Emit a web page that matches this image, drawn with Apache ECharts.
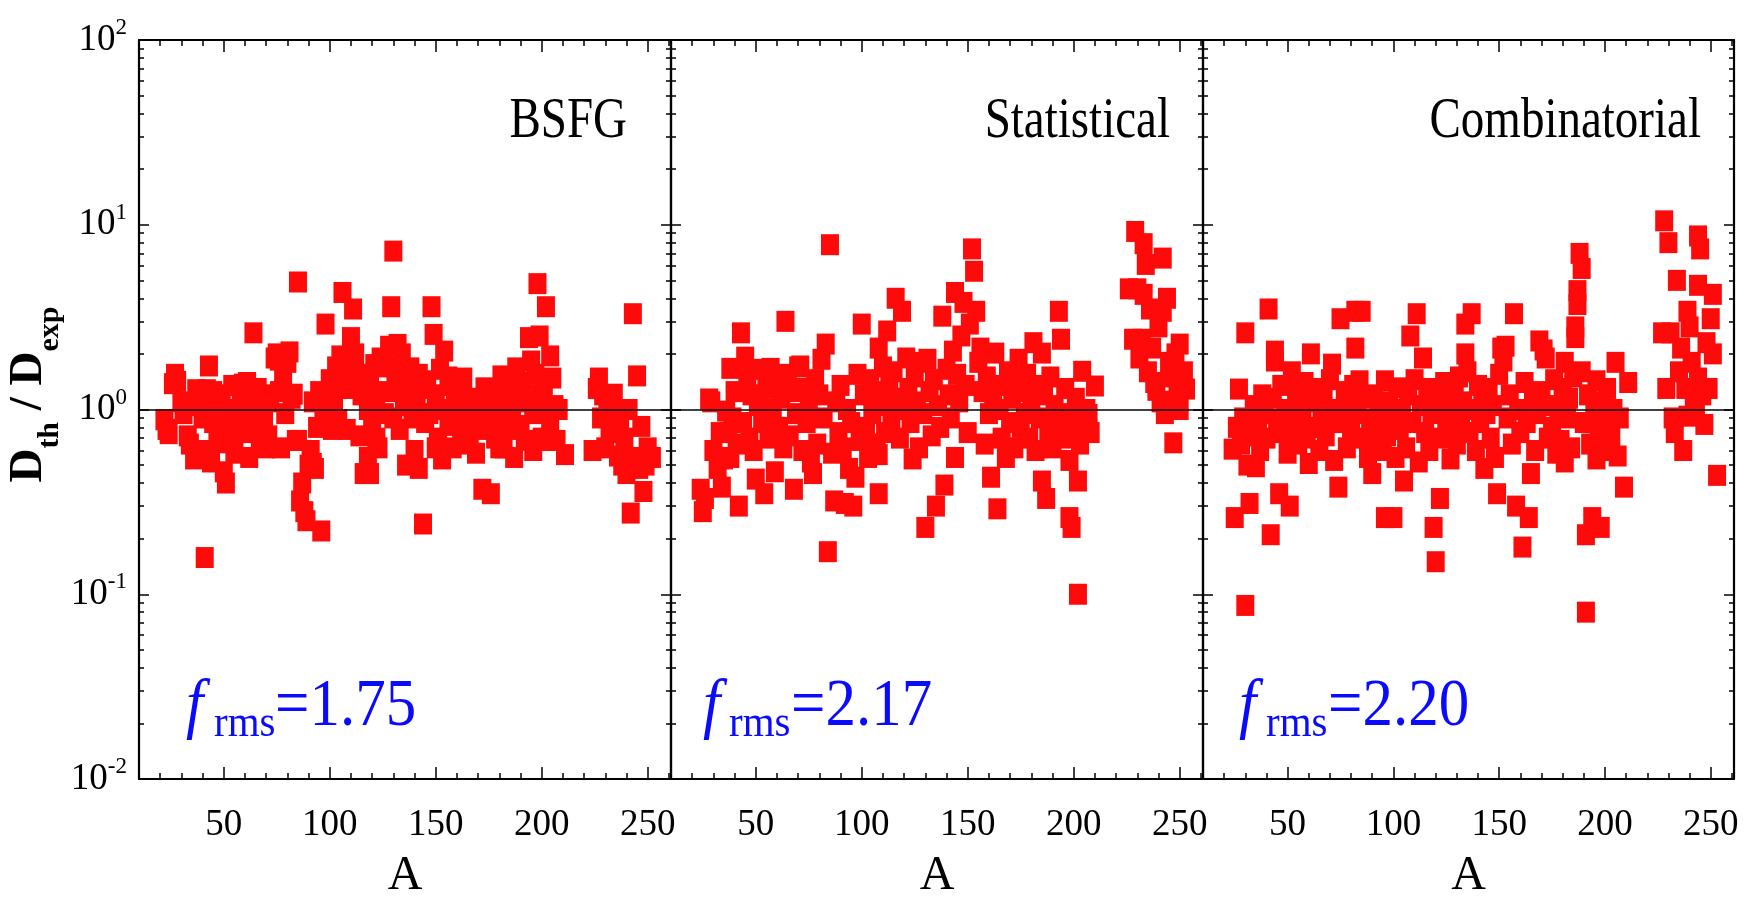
<!DOCTYPE html>
<html>
<head>
<meta charset="utf-8">
<script src="https://cdn.jsdelivr.net/npm/echarts@6/dist/echarts.min.js"></script>
<style>
html,body{margin:0;padding:0;background:#fff;}
#chart{width:1745px;height:898px;}
</style>
</head>
<body>
<div id="chart"></div>
<script>
// ---------------- DATA ----------------
const panelNames = ['BSFG', 'Statistical', 'Combinatorial'];
const frmsValues = ['1.75', '2.17', '2.20'];
const xMajorTicks = [50, 100, 150, 200, 250];
const xMinorTicks = [10, 20, 30, 40, 50, 60, 70, 80, 90, 100, 110, 120, 130, 140, 150, 160, 170, 180, 190, 200, 210, 220, 230, 240, 250, 260];
const yMinorTicks = [0.02, 0.03, 0.04, 0.05, 0.06, 0.07, 0.08, 0.09, 0.2, 0.3, 0.4, 0.5, 0.6, 0.7, 0.8, 0.9, 2, 3, 4, 5, 6, 7, 8, 9, 20, 30, 40, 50, 60, 70, 80, 90];
const refLineValue = 1;

// [A, D_th/D_exp]
const bsfgPoints = [
[22,0.88],[23,0.78],[24,0.74],[26,1.38],[27,1.55],[28,1.42],[30,1.10],[31,0.95],[33,0.72],[34,0.65],[35,1.05],[36,0.54],[37,1.28],[38,1.12],[39,0.60],[40,0.90],[41,0.158],[42,1.28],[43,1.72],[44,0.52],[45,0.85],[45,1.25],[46,1.10],[47,0.66],[48,0.78],[49,1.20],[50,0.46],[51,0.40],[52,0.95],[53,0.70],[54,1.35],[55,0.58],[56,1.00],[56,0.75],[57,0.88],[58,1.25],[59,1.37],[60,0.95],[61,1.40],[61,0.75],[62,0.55],[63,1.15],[64,2.60],[65,0.95],[66,1.30],[66,0.85],[67,0.68],[68,1.05],[69,0.85],[70,1.20],[70,0.62],[71,0.72],[72,1.10],[74,1.90],[75,2.00],[76,1.85],[76,1.25],[77,0.62],[78,1.50],[79,0.95],[80,1.80],[81,2.05],[82,1.15],[83,1.21],[84,0.68],[85,4.9],[85,0.68],[86,0.32],[87,0.40],[88,0.28],[89,0.25],[90,0.50],[91,0.60],[92,1.10],[92,0.51],[93,0.48],[94,0.80],[95,1.25],[96,0.22],[97,0.95],[98,2.9],[99,1.20],[100,1.45],[100,1.15],[101,0.78],[102,1.10],[103,1.70],[104,0.88],[104,1.30],[105,1.95],[106,4.3],[107,1.30],[107,1.83],[108,1.60],[108,0.78],[110,2.45],[111,3.5],[112,2.00],[112,1.55],[113,1.40],[114,0.72],[115,1.20],[116,0.45],[117,1.55],[118,0.55],[118,1.00],[119,1.35],[119,0.45],[120,0.82],[121,1.75],[122,1.15],[122,0.70],[123,0.62],[124,1.90],[125,1.83],[126,0.95],[126,1.70],[127,1.25],[128,2.2],[129,3.6],[130,7.2],[130,0.90],[131,1.60],[132,2.25],[133,0.78],[134,2.00],[134,1.25],[135,1.05],[136,0.50],[137,1.40],[138,1.68],[138,1.15],[139,0.90],[140,0.60],[141,1.15],[142,0.48],[142,1.55],[143,1.30],[144,0.24],[145,0.85],[146,1.43],[147,0.95],[148,3.6],[149,2.55],[150,1.20],[150,0.62],[151,0.70],[152,1.65],[153,0.54],[154,2.07],[155,1.00],[156,0.82],[156,1.50],[157,1.35],[158,0.62],[159,1.10],[160,0.90],[160,1.30],[161,1.25],[162,0.75],[163,1.48],[164,0.88],[164,0.65],[165,1.05],[166,0.68],[167,0.95],[168,1.15],[169,0.58],[170,0.85],[171,1.00],[172,0.37],[172,1.10],[173,1.31],[174,0.78],[175,0.92],[176,0.35],[176,0.82],[177,1.08],[178,0.70],[179,1.20],[180,0.88],[180,0.62],[181,1.52],[182,0.62],[183,1.00],[184,0.78],[184,1.15],[185,1.30],[186,0.95],[187,0.55],[188,1.68],[189,1.10],[190,0.82],[190,1.30],[191,1.40],[192,0.68],[193,1.20],[194,2.45],[195,1.83],[196,0.95],[196,0.60],[197,1.55],[198,4.8],[199,2.5],[200,0.70],[200,1.10],[201,1.30],[202,3.6],[203,0.68],[204,1.95],[204,0.88],[205,1.48],[206,1.05],[207,0.68],[208,1.00],[211,0.57],[224,0.60],[226,1.30],[227,1.48],[228,0.90],[229,1.20],[230,0.62],[231,1.05],[232,0.75],[233,0.95],[234,1.21],[235,0.80],[236,0.56],[237,0.85],[238,0.50],[239,0.70],[240,0.45],[241,1.00],[242,0.275],[243,3.3],[244,0.55],[245,1.52],[246,0.48],[247,0.81],[248,0.36],[249,0.50],[250,0.62],[252,0.55]
];

const statisticalPoints = [
[24,0.37],[25,0.28],[26,0.33],[28,1.14],[29,1.10],[30,0.60],[32,0.48],[33,0.75],[34,0.38],[35,0.54],[36,0.98],[37,0.75],[38,0.55],[38,1.67],[39,0.90],[40,1.25],[41,0.65],[42,0.30],[43,2.6],[44,0.85],[45,1.92],[46,1.50],[47,0.70],[48,1.20],[49,0.60],[50,0.42],[51,1.05],[52,1.65],[53,0.85],[54,0.35],[55,1.30],[56,0.70],[57,1.67],[58,1.00],[59,0.46],[60,1.40],[61,0.80],[62,1.15],[63,0.62],[64,3.0],[65,1.55],[66,0.72],[67,1.25],[68,0.37],[69,0.95],[70,1.70],[71,1.72],[72,0.60],[73,1.30],[74,0.85],[75,1.05],[76,0.52],[77,0.45],[78,1.45],[79,0.65],[80,1.20],[81,1.87],[82,0.90],[83,2.26],[84,0.17],[85,7.8],[86,0.58],[87,0.32],[88,1.10],[89,0.75],[90,1.35],[91,0.62],[92,0.31],[93,1.00],[94,0.48],[95,0.85],[96,0.30],[97,0.43],[98,1.55],[99,0.68],[100,2.9],[101,1.20],[102,0.80],[103,0.55],[104,1.45],[105,0.95],[106,1.25],[107,0.65],[108,2.15],[108,0.35],[108,0.57],[109,1.05],[110,1.70],[111,0.75],[112,2.66],[113,1.35],[114,0.90],[115,1.60],[116,4.0],[117,1.15],[118,0.70],[119,3.4],[120,1.00],[121,1.90],[122,1.30],[123,0.85],[124,0.54],[125,1.50],[126,1.10],[127,0.62],[128,1.80],[129,0.95],[130,0.23],[131,1.87],[132,1.25],[133,0.72],[134,1.45],[135,0.30],[136,1.05],[137,0.80],[138,3.2],[139,0.39],[140,1.65],[141,1.20],[142,0.90],[143,2.07],[144,4.3],[144,0.55],[145,1.55],[146,1.10],[147,2.5],[148,3.8],[149,1.35],[150,0.75],[151,2.9],[152,7.4],[153,5.6],[154,3.4],[155,1.80],[156,2.15],[157,1.25],[158,0.65],[159,1.50],[160,0.95],[161,0.43],[162,1.20],[163,2.02],[164,0.29],[165,1.00],[166,0.70],[167,1.35],[168,0.55],[169,1.60],[170,0.85],[171,1.15],[172,0.62],[173,1.45],[174,1.87],[175,0.80],[176,1.25],[177,0.95],[178,1.55],[179,0.70],[180,1.10],[181,2.3],[182,0.60],[183,1.35],[184,0.90],[185,2.02],[185,0.41],[186,1.20],[187,0.33],[188,0.75],[189,1.50],[190,0.62],[191,1.05],[192,0.85],[193,3.4],[194,2.4],[195,0.70],[196,1.30],[197,0.95],[198,0.26],[198,0.53],[199,0.23],[200,0.80],[201,1.15],[202,0.10],[202,0.41],[203,0.65],[204,1.61],[205,0.90],[206,1.00],[207,0.94],[208,0.75],[210,1.34],[226,4.5],[228,2.4],[229,9.2],[230,4.5],[231,1.90],[232,2.4],[233,7.9],[233,4.2],[234,6.1],[235,1.60],[236,3.5],[237,2.15],[238,1.40],[239,1.27],[240,2.8],[241,1.10],[242,6.6],[242,3.4],[243,0.95],[244,4.0],[244,1.11],[245,1.80],[246,1.50],[247,0.66],[248,2.0],[249,1.25],[250,2.26],[250,1.00],[252,1.60],[253,1.29]
];

const combinatorialPoints = [
[24,0.61],[25,0.26],[26,0.80],[27,1.29],[28,0.65],[29,0.90],[30,2.6],[30,0.087],[31,0.50],[32,0.31],[33,0.72],[34,1.05],[35,0.49],[36,0.85],[37,0.60],[38,1.20],[39,0.95],[40,0.70],[41,3.5],[42,0.21],[43,1.15],[44,2.07],[44,1.83],[45,0.88],[46,0.35],[47,1.35],[48,0.75],[49,1.00],[50,0.58],[51,0.30],[52,1.60],[53,0.82],[54,1.25],[55,0.65],[56,1.05],[57,0.90],[58,1.40],[59,0.70],[60,0.51],[61,2.0],[62,1.10],[63,0.80],[64,1.30],[65,0.60],[66,0.95],[67,1.20],[68,0.72],[69,0.88],[70,1.45],[71,1.76],[72,0.53],[73,1.00],[74,0.38],[75,3.1],[76,0.85],[77,1.25],[78,0.62],[79,1.05],[80,0.75],[81,1.35],[82,3.4],[82,2.15],[83,0.95],[84,1.43],[85,3.4],[86,0.70],[87,1.15],[88,0.55],[89,0.88],[90,0.45],[91,1.20],[92,0.65],[93,1.00],[94,0.80],[95,0.60],[96,0.26],[96,1.43],[97,0.72],[98,1.10],[99,0.90],[100,0.26],[101,0.55],[102,1.31],[103,0.78],[104,1.00],[105,0.41],[106,0.62],[107,1.20],[108,2.5],[109,0.85],[110,1.45],[111,3.3],[112,0.52],[113,1.05],[114,1.90],[115,0.75],[116,1.30],[117,0.60],[118,0.95],[119,0.23],[120,0.15],[121,1.15],[122,0.33],[123,0.70],[124,1.40],[125,0.88],[126,1.05],[127,0.54],[128,0.80],[129,1.25],[130,0.65],[131,1.50],[132,0.92],[133,1.10],[134,2.9],[134,2.0],[135,1.60],[136,0.75],[137,3.3],[138,1.00],[139,0.60],[140,1.35],[141,0.85],[142,1.15],[143,0.48],[144,0.95],[145,1.30],[146,0.70],[147,1.05],[148,0.55],[149,0.35],[150,1.55],[151,2.15],[152,1.83],[153,2.2],[154,0.90],[155,1.20],[156,0.65],[157,3.3],[158,0.30],[159,1.00],[160,0.75],[161,0.18],[162,1.40],[163,0.85],[164,0.26],[165,0.45],[166,1.10],[167,0.60],[168,0.95],[169,2.35],[170,1.25],[171,2.1],[172,1.9],[173,0.70],[174,1.05],[175,0.80],[176,1.45],[177,0.58],[178,1.00],[179,0.68],[180,1.30],[181,1.8],[181,0.52],[182,0.90],[183,1.15],[184,0.62],[185,1.50],[186,2.8],[186,2.45],[187,4.4],[187,3.7],[188,7.0],[189,5.8],[189,1.60],[190,0.85],[191,0.08],[191,0.21],[192,1.20],[193,0.65],[194,0.26],[195,0.95],[196,1.43],[196,0.54],[197,0.75],[198,0.23],[199,1.10],[200,0.60],[201,1.30],[202,0.88],[203,0.70],[204,1.00],[205,1.8],[206,0.56],[207,0.90],[209,0.38],[211,1.40],[227,2.6],[228,10.5],[229,1.30],[230,8.0],[231,2.6],[232,0.90],[233,0.75],[234,5.0],[235,1.60],[236,2.15],[237,0.60],[238,1.30],[239,3.4],[239,0.92],[240,2.8],[241,1.80],[242,1.10],[243,0.95],[244,8.7],[244,4.7],[244,1.48],[245,7.4],[246,1.20],[247,0.83],[248,2.3],[249,1.30],[250,3.1],[251,4.2],[251,2.0],[253,0.44]
];

const panelData = [bsfgPoints, statisticalPoints, combinatorialPoints];

// ---------------- LAYOUT ----------------
const SERIF = 'Liberation Serif';
const panelLeft = [139, 671, 1203];
const panelWidth = [532, 532, 531];
const plotTop = 40, plotHeight = 739;
const xRange = [10, 261];
const yRange = [0.01, 100];
const titleRight = [627, 1170, 1701];
const frmsPos = [ // f x, rms x, value x
  [186, 214, 275],
  [703, 729, 791],
  [1239, 1266, 1328]
];

const chart = echarts.init(document.getElementById('chart'), null, {renderer: 'canvas'});

const grids = [], xAxes = [], yAxes = [], series = [], graphics = [];
const black = '#000';

for (let i = 0; i < 3; i++) {
  // main grid (i) and minor-tick grid (i+3)
  grids[i] = {left: panelLeft[i], top: plotTop, width: panelWidth[i], height: plotHeight,
    containLabel: false, outerBoundsMode: 'none'};
  grids[i + 3] = {left: panelLeft[i], top: plotTop, width: panelWidth[i], height: plotHeight,
    containLabel: false, outerBoundsMode: 'none'};
}

function xAxisDef(gridIndex, position, major, withLabels) {
  return {
    gridIndex, type: 'value', position, min: xRange[0], max: xRange[1],
    axisLine: {show: major, onZero: false, lineStyle: {color: black, width: 2.2}},
    axisTick: {show: true, inside: true, length: major ? 12 : 6,
      customValues: major ? xMajorTicks : xMinorTicks, lineStyle: {color: black, width: 1.5}},
    axisLabel: withLabels ? {show: true, customValues: xMajorTicks, margin: 28,
      fontFamily: SERIF, fontSize: 37, color: black} : {show: false},
    splitLine: {show: false},
    name: withLabels ? 'A' : '',
    nameLocation: 'middle', nameGap: 73,
    nameTextStyle: {fontFamily: SERIF, fontSize: 48, color: black}
  };
}

function yAxisDef(gridIndex, position, major, withLabels) {
  const ax = {
    gridIndex, type: 'log', logBase: 10, position, min: yRange[0], max: yRange[1],
    axisLine: {show: major, onZero: false, lineStyle: {color: black, width: 2.2}},
    axisTick: {show: true, inside: true, length: major ? 10 : 5, lineStyle: {color: black, width: 1.5}},
    axisLabel: withLabels ? {
      show: true, margin: 12,
      formatter: v => '{b|10}{s|' + Math.round(Math.log10(v)) + '}',
      rich: {
        b: {fontFamily: SERIF, fontSize: 37, color: black},
        s: {fontFamily: SERIF, fontSize: 23, color: black, padding: [0, 0, 24, 0]}
      }
    } : {show: false},
    splitLine: {show: false}
  };
  if (!major) ax.axisTick.customValues = yMinorTicks;
  if (withLabels) {
    ax.name = '{b|D}{s|th}{b| / D}{s|exp}';
    ax.nameLocation = 'middle';
    ax.nameGap = 74;
    ax.nameRotate = 90;
    ax.nameTextStyle = {
      padding: [0, 0, 0, 30],
      rich: {
        b: {fontFamily: SERIF, fontSize: 47, fontWeight: 'bold', color: black},
        s: {fontFamily: SERIF, fontSize: 30, fontWeight: 'bold', color: black, padding: [42, 0, 0, 0]}
      }
    };
  }
  return ax;
}

for (let i = 0; i < 3; i++) {
  xAxes.push(xAxisDef(i, 'bottom', true, true));        // index 2i
  xAxes.push(xAxisDef(i, 'top', true, false));          // index 2i+1
  yAxes.push(yAxisDef(i, 'left', true, i === 0));       // index 2i
  yAxes.push(yAxisDef(i, 'right', true, false));        // index 2i+1
}
for (let i = 0; i < 3; i++) {
  xAxes.push(xAxisDef(i + 3, 'bottom', false, false));
  xAxes.push(xAxisDef(i + 3, 'top', false, false));
  yAxes.push(yAxisDef(i + 3, 'left', false, false));
  yAxes.push(yAxisDef(i + 3, 'right', false, false));
}

for (let i = 0; i < 3; i++) {
  series.push({
    name: panelNames[i],
    type: 'scatter',
    xAxisIndex: 2 * i, yAxisIndex: 2 * i,
    data: panelData[i],
    symbol: 'rect',
    symbolSize: [18, 21],
    itemStyle: {color: '#ff0a0a', opacity: 1},
    emphasis: {disabled: true},
    silent: true,
    markLine: {
      silent: true, symbol: ['none', 'none'], animation: false,
      label: {show: false},
      lineStyle: {color: black, width: 1.5, type: 'solid'},
      emphasis: {disabled: true},
      data: [{yAxis: refLineValue}]
    }
  });

  graphics.push({
    type: 'text', x: titleRight[i], y: 122, scaleY: 1.2, z: 10,
    style: {text: panelNames[i], fontFamily: SERIF, fontSize: 47, fill: black,
      align: 'right', verticalAlign: 'middle', textAlign: 'right', textVerticalAlign: 'middle'}
  });
  graphics.push({
    type: 'text', x: frmsPos[i][0], y: 708, scaleY: 1.1, z: 10,
    style: {text: 'f', fontFamily: SERIF, fontStyle: 'italic', fontSize: 62, fill: '#0a0aff',
      align: 'left', verticalAlign: 'middle', textAlign: 'left', textVerticalAlign: 'middle'}
  });
  graphics.push({
    type: 'text', x: frmsPos[i][1], y: 724, scaleY: 1.1, z: 10,
    style: {text: 'rms', fontFamily: SERIF, fontSize: 41, fill: '#0a0aff',
      align: 'left', verticalAlign: 'middle', textAlign: 'left', textVerticalAlign: 'middle'}
  });
  graphics.push({
    type: 'text', x: frmsPos[i][2], y: 707, scaleY: 1.1, z: 10,
    style: {text: '=' + frmsValues[i], fontFamily: SERIF, fontSize: 61, fill: '#0a0aff',
      align: 'left', verticalAlign: 'middle', textAlign: 'left', textVerticalAlign: 'middle'}
  });
}

chart.setOption({
  animation: false,
  backgroundColor: '#fff',
  grid: grids,
  xAxis: xAxes,
  yAxis: yAxes,
  series: series,
  graphic: graphics
});
</script>
</body>
</html>
